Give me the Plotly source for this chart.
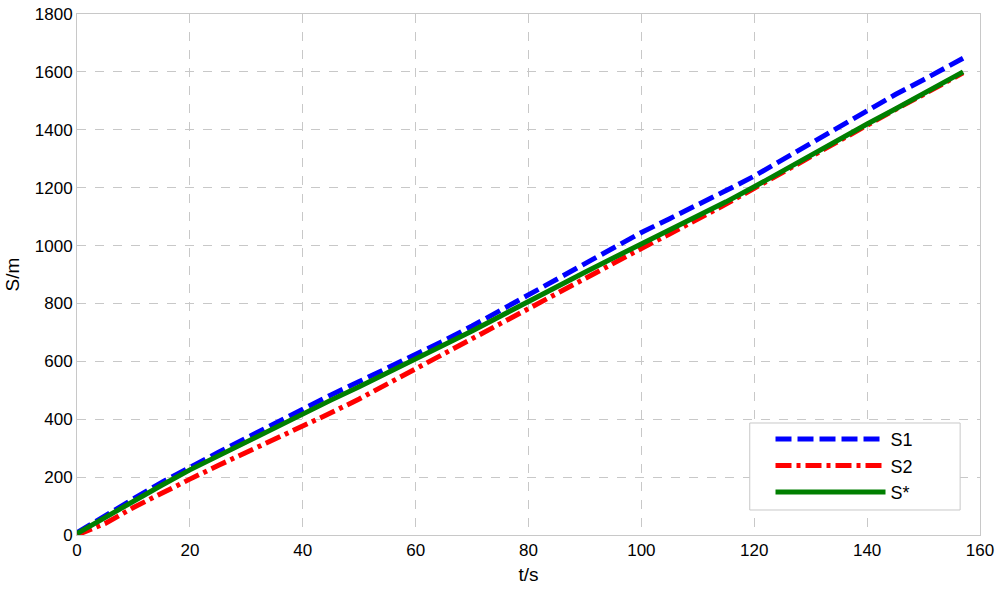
import plotly.graph_objects as go

# time samples (s)
t = [0, 5, 10, 15, 20, 25, 30, 35, 40, 45, 50, 55, 60, 65, 70, 75, 80, 85, 90,
     95, 100, 105, 110, 115, 120, 125, 130, 135, 140, 145, 150, 155, 157]

# distance (m)
s1 = [8, 68, 125, 182, 235, 285, 335, 386, 437, 484, 530, 576, 622, 671, 722, 776, 832,
      886, 940, 993, 1045, 1093, 1140, 1190, 1240, 1297, 1355, 1412, 1470, 1522, 1573, 1627, 1647]
s2 = [0, 40, 95, 145, 193, 240, 285, 330, 375, 422, 470, 522, 575, 627, 680, 732, 785,
      837, 888, 939, 990, 1040, 1090, 1143, 1198, 1253, 1308, 1363, 1418, 1470, 1522, 1576, 1597]
s_star = [5, 62, 118, 172, 225, 274, 322, 371, 420, 466, 512, 560, 607, 656, 705, 756, 808,
          858, 908, 957, 1005, 1052, 1100, 1151, 1203, 1258, 1312, 1366, 1420, 1472, 1525, 1578, 1600]

fig = go.Figure()
fig.add_trace(go.Scatter(x=t, y=s1, name="S1", mode="lines",
                         line=dict(color="#0000ff", width=5, dash="16px,6px")))
fig.add_trace(go.Scatter(x=t, y=s2, name="S2", mode="lines",
                         line=dict(color="#ff0000", width=5, dash="16px,5px,4px,5px")))
fig.add_trace(go.Scatter(x=t, y=s_star, name="S*", mode="lines",
                         line=dict(color="#007f00", width=5)))

axis_common = dict(
    showgrid=True, gridcolor="#c8c8c8", griddash="dash", gridwidth=1,
    showline=True, linecolor="#c8c8c8", linewidth=1, mirror=True,
    zeroline=False, ticks="", tickfont=dict(size=17, color="black"),
    automargin=False,
)

# legend frame (drawn as a shape so it can be wider than plotly's own box)
fig.add_shape(type="rect", xref="paper", yref="paper",
              x0=0.745, x1=0.978, y0=0.048, y1=0.215,
              line=dict(color="#c8c8c8", width=1), fillcolor="white", layer="above")

fig.update_layout(
    width=1000, height=589,
    margin=dict(l=77, r=20, t=14, b=54),
    paper_bgcolor="white", plot_bgcolor="white",
    font=dict(family="Liberation Sans, Arial, sans-serif", color="black"),
    xaxis=dict(range=[0, 160], dtick=20, title=dict(text="t/s", font=dict(size=19), standoff=8),
               **axis_common),
    yaxis=dict(range=[0, 1800], dtick=200, title=dict(text="S/m", font=dict(size=19), standoff=10),
               **axis_common),
    legend=dict(x=0.768, y=0.219, xanchor="left", yanchor="top",
                bgcolor="rgba(0,0,0,0)", borderwidth=0,
                font=dict(size=18), itemwidth=110, tracegroupgap=0),
    showlegend=True,
)

fig.write_html("out.html", config={"displayModeBar": False},
               post_script="document.body.style.margin='0';")
